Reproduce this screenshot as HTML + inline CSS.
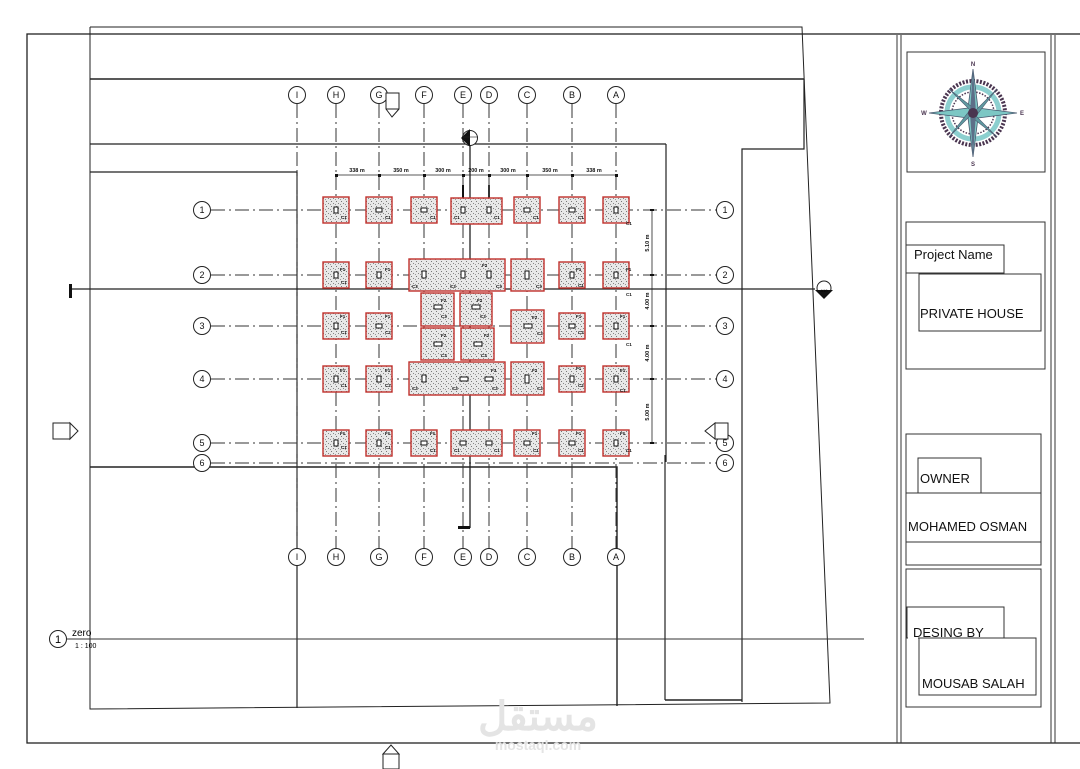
<!DOCTYPE html>
<html><head><meta charset="utf-8"><style>
html,body{margin:0;padding:0;background:#fff;}
svg{display:block;}
text{font-family:"Liberation Sans",sans-serif;}
</style></head><body>
<svg width="1080" height="769" viewBox="0 0 1080 769" xmlns="http://www.w3.org/2000/svg">
<defs>
<pattern id="st" width="5" height="5" patternUnits="userSpaceOnUse">
<rect width="5" height="5" fill="#e8e8e8"/>
<rect x="1" y="1" width="1" height="1" fill="#777"/>
<rect x="3" y="3" width="1" height="1" fill="#888"/>
<rect x="0" y="4" width="1" height="1" fill="#999"/>
</pattern>
</defs>
<rect x="27" y="34" width="1060" height="709" fill="none" stroke="#222" stroke-width="1.3"/>
<polyline points="90,27 802,27 830,703 90,709 90,27" fill="none" stroke="#222" stroke-width="1"/>
<line x1="90" y1="79" x2="804" y2="79" stroke="#222" stroke-width="1.6"/>
<polyline points="804,79 804,149 742,149 742,702" fill="none" stroke="#222" stroke-width="1.2"/>
<line x1="665" y1="455" x2="665" y2="700" stroke="#222" stroke-width="1.2"/>
<line x1="665" y1="700" x2="742" y2="700" stroke="#222" stroke-width="1.6"/>
<line x1="90" y1="144" x2="666" y2="144" stroke="#222" stroke-width="1.3"/>
<line x1="666" y1="144" x2="666" y2="462" stroke="#222" stroke-width="1.2"/>
<polyline points="90,172 297,172 297,708" fill="none" stroke="#222" stroke-width="1.2"/>
<polyline points="90,467 297,467 617,467 617,706" fill="none" stroke="#222" stroke-width="1.4"/>
<line x1="70" y1="289" x2="815" y2="289" stroke="#222" stroke-width="1.3"/>
<rect x="69" y="284" width="3" height="14" fill="#111"/>
<circle cx="824" cy="288" r="7" fill="#fff" stroke="#222"/>
<polygon points="815,290 833,290 824,299" fill="#111"/>
<text x="824" y="292" font-size="4" text-anchor="middle">A10</text>
<line x1="67" y1="639" x2="864" y2="639" stroke="#333" stroke-width="1"/>
<circle cx="58" cy="639" r="8.5" fill="#fff" stroke="#222"/>
<text x="58" y="643" font-size="11" text-anchor="middle">1</text>
<text x="72" y="636" font-size="10">zero</text>
<text x="75" y="648" font-size="7">1 : 100</text>

<g stroke="#333" stroke-width="1" stroke-dasharray="14,4,2,4" fill="none">
<line x1="297" y1="104" x2="297" y2="548"/>
<line x1="336" y1="104" x2="336" y2="548"/>
<line x1="379" y1="104" x2="379" y2="548"/>
<line x1="424" y1="104" x2="424" y2="548"/>
<line x1="463" y1="104" x2="463" y2="548"/>
<line x1="489" y1="104" x2="489" y2="548"/>
<line x1="527" y1="104" x2="527" y2="548"/>
<line x1="572" y1="104" x2="572" y2="548"/>
<line x1="616" y1="104" x2="616" y2="548"/>
<line x1="211" y1="210" x2="716" y2="210"/>
<line x1="211" y1="275" x2="716" y2="275"/>
<line x1="211" y1="326" x2="716" y2="326"/>
<line x1="211" y1="379" x2="716" y2="379"/>
<line x1="211" y1="443" x2="716" y2="443"/>
<line x1="211" y1="463" x2="716" y2="463"/>
</g>
<g fill="#fff" stroke="#222" stroke-width="1">
<circle cx="297" cy="95" r="8.5"/><circle cx="336" cy="95" r="8.5"/><circle cx="379" cy="95" r="8.5"/><circle cx="424" cy="95" r="8.5"/><circle cx="463" cy="95" r="8.5"/><circle cx="489" cy="95" r="8.5"/><circle cx="527" cy="95" r="8.5"/><circle cx="572" cy="95" r="8.5"/><circle cx="616" cy="95" r="8.5"/>
<circle cx="297" cy="557" r="8.5"/><circle cx="336" cy="557" r="8.5"/><circle cx="379" cy="557" r="8.5"/><circle cx="424" cy="557" r="8.5"/><circle cx="463" cy="557" r="8.5"/><circle cx="489" cy="557" r="8.5"/><circle cx="527" cy="557" r="8.5"/><circle cx="572" cy="557" r="8.5"/><circle cx="616" cy="557" r="8.5"/>
<circle cx="202" cy="210" r="8.5"/><circle cx="202" cy="275" r="8.5"/><circle cx="202" cy="326" r="8.5"/><circle cx="202" cy="379" r="8.5"/><circle cx="202" cy="443" r="8.5"/><circle cx="202" cy="463" r="8.5"/>
<circle cx="725" cy="210" r="8.5"/><circle cx="725" cy="275" r="8.5"/><circle cx="725" cy="326" r="8.5"/><circle cx="725" cy="379" r="8.5"/><circle cx="725" cy="443" r="8.5"/><circle cx="725" cy="463" r="8.5"/>
</g>
<g font-size="9" text-anchor="middle" fill="#111">
<text x="297" y="98">I</text><text x="336" y="98">H</text><text x="379" y="98">G</text><text x="424" y="98">F</text><text x="463" y="98">E</text><text x="489" y="98">D</text><text x="527" y="98">C</text><text x="572" y="98">B</text><text x="616" y="98">A</text>
<text x="297" y="560">I</text><text x="336" y="560">H</text><text x="379" y="560">G</text><text x="424" y="560">F</text><text x="463" y="560">E</text><text x="489" y="560">D</text><text x="527" y="560">C</text><text x="572" y="560">B</text><text x="616" y="560">A</text>
<text x="202" y="213">1</text><text x="202" y="278">2</text><text x="202" y="329">3</text><text x="202" y="382">4</text><text x="202" y="446">5</text><text x="202" y="466">6</text>
<text x="725" y="213">1</text><text x="725" y="278">2</text><text x="725" y="329">3</text><text x="725" y="382">4</text><text x="725" y="446">5</text><text x="725" y="466">6</text>
</g>
<polygon points="386,93 399,93 399,109 392,117 386,109" fill="#fff" stroke="#222"/>
<line x1="386" y1="109" x2="399" y2="109" stroke="#222"/>
<line x1="470" y1="130" x2="470" y2="528" stroke="#222" stroke-width="1.3"/>
<rect x="458" y="526" width="12" height="3" fill="#111"/>
<circle cx="470" cy="138" r="7.5" fill="#fff" stroke="#222"/>
<polygon points="461,138 470,129 470,147" fill="#111"/>
<line x1="463" y1="137" x2="478" y2="137" stroke="#222" stroke-width="0.6"/>
<rect x="462" y="185" width="2" height="15" fill="#111"/>
<rect x="488" y="185" width="2" height="15" fill="#333"/>
<rect x="53" y="423" width="17" height="16" fill="#fff" stroke="#222"/>
<polygon points="70,423 78,431 70,439" fill="#fff" stroke="#222"/>
<polygon points="715,423 705,431 715,439" fill="#fff" stroke="#222"/>
<rect x="715" y="423" width="13" height="16" fill="#fff" stroke="#222"/>
<polygon points="383,754 391,745 399,754" fill="#fff" stroke="#222"/>
<rect x="383" y="754" width="16" height="15" fill="#fff" stroke="#222"/>

<g stroke="#222" stroke-width="0.8">
<line x1="336" y1="175" x2="616" y2="175"/>
<line x1="652" y1="210" x2="652" y2="443"/>
</g>
<g fill="#111">
<rect x="335" y="174" width="3" height="3"/><rect x="378" y="174" width="3" height="3"/><rect x="423" y="174" width="3" height="3"/><rect x="462" y="174" width="3" height="3"/><rect x="488" y="174" width="3" height="3"/><rect x="526" y="174" width="3" height="3"/><rect x="571" y="174" width="3" height="3"/><rect x="615" y="174" width="3" height="3"/>
<rect x="650" y="209" width="4" height="2"/><rect x="650" y="274" width="4" height="2"/><rect x="650" y="325" width="4" height="2"/><rect x="650" y="378" width="4" height="2"/><rect x="650" y="442" width="4" height="2"/>
</g>
<g font-size="5.5" text-anchor="middle" font-weight="bold" fill="#111">
<text x="357" y="172">338 m</text><text x="401" y="172">350 m</text><text x="443" y="172">300 m</text><text x="476" y="172">200 m</text><text x="508" y="172">300 m</text><text x="550" y="172">350 m</text><text x="594" y="172">338 m</text>
<text transform="translate(649,243) rotate(-90)">5.10 m</text>
<text transform="translate(649,301) rotate(-90)">4.00 m</text>
<text transform="translate(649,353) rotate(-90)">4.00 m</text>
<text transform="translate(649,412) rotate(-90)">5.00 m</text>
</g>

<g fill="url(#st)" stroke="#c0302c" stroke-width="1.4">
<rect x="323" y="197" width="26" height="26"/><rect x="366" y="197" width="26" height="26"/><rect x="411" y="197" width="26" height="26"/><rect x="451" y="198" width="51" height="26"/><rect x="514" y="197" width="26" height="26"/><rect x="559" y="197" width="26" height="26"/><rect x="603" y="197" width="26" height="26"/>
<rect x="323" y="262" width="26" height="26"/><rect x="366" y="262" width="26" height="26"/><rect x="409" y="259" width="96" height="32"/><rect x="511" y="259" width="33" height="32"/><rect x="559" y="262" width="26" height="26"/><rect x="603" y="262" width="26" height="26"/>
<rect x="323" y="313" width="26" height="26"/><rect x="366" y="313" width="26" height="26"/><rect x="421" y="293" width="33" height="33"/><rect x="460" y="293" width="32" height="33"/><rect x="421" y="328" width="33" height="32"/><rect x="461" y="328" width="33" height="32"/><rect x="511" y="310" width="33" height="33"/><rect x="559" y="313" width="26" height="26"/><rect x="603" y="313" width="26" height="26"/>
<rect x="323" y="366" width="26" height="26"/><rect x="366" y="366" width="26" height="26"/><rect x="409" y="362" width="96" height="33"/><rect x="511" y="362" width="33" height="33"/><rect x="559" y="366" width="26" height="26"/><rect x="603" y="366" width="26" height="26"/>
<rect x="323" y="430" width="26" height="26"/><rect x="366" y="430" width="26" height="26"/><rect x="411" y="430" width="26" height="26"/><rect x="451" y="430" width="51" height="26"/><rect x="514" y="430" width="26" height="26"/><rect x="559" y="430" width="26" height="26"/><rect x="603" y="430" width="26" height="26"/>
</g>
<g fill="#fff" stroke="#111" stroke-width="1">
<rect x="334" y="207" width="4" height="6"/><rect x="376" y="208" width="6" height="4"/><rect x="421" y="208" width="6" height="4"/><rect x="461" y="207" width="4" height="6"/><rect x="487" y="207" width="4" height="6"/><rect x="524" y="208" width="6" height="4"/><rect x="569" y="208" width="6" height="4"/><rect x="614" y="207" width="4" height="6"/>
<rect x="334" y="272" width="4" height="6"/><rect x="377" y="272" width="4" height="6"/><rect x="422" y="271" width="4" height="7"/><rect x="461" y="271" width="4" height="7"/><rect x="487" y="271" width="4" height="7"/><rect x="525" y="271" width="4" height="8"/><rect x="570" y="272" width="4" height="6"/><rect x="614" y="272" width="4" height="6"/>
<rect x="334" y="323" width="4" height="6"/><rect x="376" y="324" width="6" height="4"/><rect x="434" y="305" width="8" height="4"/><rect x="472" y="305" width="8" height="4"/><rect x="434" y="342" width="8" height="4"/><rect x="474" y="342" width="8" height="4"/><rect x="524" y="324" width="8" height="4"/><rect x="569" y="324" width="6" height="4"/><rect x="614" y="323" width="4" height="6"/>
<rect x="334" y="376" width="4" height="6"/><rect x="377" y="376" width="4" height="6"/><rect x="422" y="375" width="4" height="7"/><rect x="460" y="377" width="8" height="4"/><rect x="485" y="377" width="8" height="4"/><rect x="525" y="375" width="4" height="8"/><rect x="570" y="376" width="4" height="6"/><rect x="614" y="376" width="4" height="6"/>
<rect x="334" y="440" width="4" height="6"/><rect x="377" y="440" width="4" height="6"/><rect x="421" y="441" width="6" height="4"/><rect x="460" y="441" width="6" height="4"/><rect x="486" y="441" width="6" height="4"/><rect x="524" y="441" width="6" height="4"/><rect x="569" y="441" width="6" height="4"/><rect x="614" y="440" width="4" height="6"/>
</g>
<g font-size="4.5" font-weight="bold" fill="#111">
<text x="341" y="219">C1</text><text x="385" y="219">C1</text><text x="430" y="219">C1</text><text x="454" y="219">C1</text><text x="494" y="219">C1</text><text x="533" y="219">C1</text><text x="578" y="219">C1</text><text x="626" y="225">C1</text>
<text x="340" y="271">F1</text><text x="385" y="271">F1</text><text x="482" y="267">F2</text><text x="576" y="271">F1</text><text x="626" y="271">F1</text>
<text x="341" y="284">C1</text><text x="412" y="288">C3</text><text x="450" y="288">C3</text><text x="496" y="288">C3</text><text x="536" y="288">C3</text><text x="578" y="287">C1</text><text x="626" y="296">C1</text>
<text x="340" y="318">F1</text><text x="385" y="318">F1</text><text x="441" y="302">F2</text><text x="477" y="302">F2</text><text x="441" y="337">F2</text><text x="484" y="337">F2</text><text x="532" y="319">F2</text><text x="576" y="318">F1</text><text x="620" y="318">F1</text>
<text x="341" y="334">C1</text><text x="385" y="334">C2</text><text x="441" y="318">C3</text><text x="480" y="318">C3</text><text x="441" y="357">C3</text><text x="481" y="357">C3</text><text x="537" y="335">C3</text><text x="578" y="334">C2</text><text x="626" y="346">C1</text>
<text x="340" y="372">F1</text><text x="385" y="372">F1</text><text x="491" y="372">F3</text><text x="532" y="372">F2</text><text x="576" y="370">F1</text><text x="620" y="372">F1</text>
<text x="341" y="387">C1</text><text x="385" y="387">C2</text><text x="412" y="390">C3</text><text x="452" y="390">C3</text><text x="492" y="390">C3</text><text x="537" y="390">C3</text><text x="578" y="387">C2</text><text x="620" y="392">C1</text>
<text x="340" y="435">F1</text><text x="385" y="435">F1</text><text x="430" y="435">F1</text><text x="532" y="435">F1</text><text x="576" y="435">F1</text><text x="620" y="435">F1</text>
<text x="341" y="449">C1</text><text x="385" y="449">C1</text><text x="430" y="452">C1</text><text x="454" y="452">C1</text><text x="494" y="452">C1</text><text x="533" y="452">C1</text><text x="578" y="452">C1</text><text x="626" y="452">C1</text>
</g>

<g fill="none" stroke="#333" stroke-width="1">
<line x1="897" y1="35" x2="897" y2="743"/><line x1="901" y1="35" x2="901" y2="743"/>
<line x1="1051" y1="35" x2="1051" y2="743"/><line x1="1055" y1="35" x2="1055" y2="743"/>
<rect x="907" y="52" width="138" height="120"/>
<rect x="906" y="222" width="139" height="147"/>
<rect x="906" y="245" width="98" height="28" fill="#fff"/>
<rect x="919" y="274" width="122" height="57"/>
<rect x="906" y="434" width="135" height="131"/>
<rect x="918" y="458" width="63" height="35"/>
<rect x="906" y="493" width="135" height="49"/>
<rect x="906" y="569" width="135" height="138"/>
<rect x="907" y="607" width="97" height="31"/>
<rect x="919" y="638" width="117" height="57" fill="#fff"/>
</g>
<rect x="908" y="630" width="10" height="9" fill="#fff"/>
<g font-size="13" fill="#111">
<text x="914" y="259">Project Name</text>
<text x="920" y="318">PRIVATE HOUSE</text>
<text x="920" y="483">OWNER</text>
<text x="908" y="531">MOHAMED OSMAN</text>
<text x="913" y="637">DESING BY</text>
<text x="922" y="688">MOUSAB SALAH</text>
</g>
<g transform="translate(973,113)">
<circle r="32" fill="none" stroke="#4a3550" stroke-width="4" stroke-dasharray="2,1.5"/>
<circle r="26" fill="none" stroke="#8ccfcf" stroke-width="5"/>
<circle r="21" fill="none" stroke="#4a3550" stroke-width="1.5" stroke-dasharray="1.5,1.5"/>
<polygon points="0,-44 5,-5 44,0 5,5 0,44 -5,5 -44,0 -5,-5" fill="#7cc7c4" stroke="#4a5a70" stroke-width="0.8"/>
<polygon points="-24,-24 3,-3 24,-24 3,3 24,24 -3,3 -24,24 -3,-3" fill="#5f9aa0" stroke="#4a5a70" stroke-width="0.6"/>
<polygon points="0,-44 3,0 0,44 -3,0" fill="#5d6f88"/>
<circle r="5" fill="#4a3550"/>
<g font-size="6" font-weight="bold" fill="#4a3550" text-anchor="middle"><text y="-47">N</text><text y="53">S</text><text x="-49" y="2">W</text><text x="49" y="2">E</text></g>
</g>
<text x="538" y="730" font-size="40" font-weight="bold" fill="#e4e4e4" text-anchor="middle" font-family="'Liberation Sans','DejaVu Sans',sans-serif">مستقل</text>
<text x="538" y="750" font-size="14" font-weight="bold" fill="#e4e4e4" text-anchor="middle">mostaql.com</text>
</svg>
</body></html>
